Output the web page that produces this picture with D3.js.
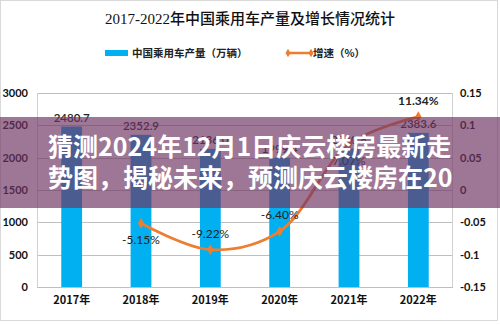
<!DOCTYPE html>
<html>
<head>
<meta charset="utf-8">
<script src="https://cdn.jsdelivr.net/npm/d3@7/dist/d3.min.js"></script>
<style>
  html, body { margin: 0; padding: 0; background: #fff; }
  svg { display: block; }
</style>
</head>
<body>
<script>
// ---- data ----
const years = ["2017年", "2018年", "2019年", "2020年", "2021年", "2022年"];
const production = [2480.7, 2352.9, 2136.0, 1999.4, 2140.8, 2383.6];
const growth = [null, -0.0515, -0.0922, -0.0640, 0.0707, 0.1134];
const growthLabels = ["", "-5.15%", "-9.22%", "-6.40%", "7.07%", "11.34%"];
const leftTicks = [0, 500, 1000, 1500, 2000, 2500, 3000];
const rightTicks = [-0.15, -0.1, -0.05, 0, 0.05, 0.1, 0.15];
const titleText = "2017-2022年中国乘用车产量及增长情况统计";
const legendLabels = ["中国乘用车产量（万辆）", "增速（%）"];
const overlayLines = ["猜测2024年12月1日庆云楼房最新走", "势图，揭秘未来，预测庆云楼房在20"];

// ---- layout (not data) ----
const W = 500, H = 325;
const plot = { left: 37, right: 453, top: 93, bottom: 287 };
const growthLabelSide = [null, "below", "above", "above", "below", "above"];
const barColor = "#00B0F0";
const lineColor = "#ED7D31";

const svg = d3.select("body").append("svg").attr("width", W).attr("height", H);
svg.append("rect").attr("width", W).attr("height", H).attr("fill", "#fff");
// outer frame
svg.append("rect").attr("x", 0.5).attr("y", 0.5).attr("width", W - 3).attr("height", H - 5)
  .attr("fill", "none").attr("stroke", "#d9d9d9");

const x = d3.scaleBand().domain(years).range([plot.left, plot.right]).padding(0);
const yL = d3.scaleLinear().domain([0, 3000]).range([plot.bottom, plot.top]);
const yR = d3.scaleLinear().domain([-0.15, 0.15]).range([plot.bottom, plot.top]);
const cx = i => x(years[i]) + x.bandwidth() / 2;

// title
svg.append("text").attr("x", 250).attr("y", 24).attr("text-anchor", "middle")
  .attr("font-family", "'Liberation Serif', 'Noto Sans CJK SC', serif")
  .attr("font-size", 15).attr("font-weight", 500).attr("fill", "#111").text(titleText);

// legend
const lg = svg.append("g").attr("font-family", "'Noto Sans CJK SC', sans-serif")
  .attr("font-size", 10.5).attr("font-weight", 700).attr("fill", "#222");
lg.append("rect").attr("x", 105).attr("y", 50).attr("width", 23).attr("height", 6).attr("fill", barColor);
lg.append("text").attr("x", 132).attr("y", 57).text(legendLabels[0]);
lg.append("line").attr("x1", 288).attr("x2", 311).attr("y1", 53).attr("y2", 53)
  .attr("stroke", lineColor).attr("stroke-width", 2.5);
[288, 311].forEach(px => lg.append("path").attr("d", d3.symbol(d3.symbolDiamond, 22)())
  .attr("transform", `translate(${px},53)`).attr("fill", lineColor));
lg.append("text").attr("x", 313).attr("y", 57).text(legendLabels[1]);

// gridlines
svg.append("g").selectAll("line").data(leftTicks).join("line")
  .attr("x1", plot.left).attr("x2", plot.right)
  .attr("y1", d => Math.round(yL(d)) + 0.5).attr("y2", d => Math.round(yL(d)) + 0.5)
  .attr("stroke", "#bfbfbf");
// plot border sides
svg.append("line").attr("x1", plot.left + 0.5).attr("x2", plot.left + 0.5)
  .attr("y1", plot.top).attr("y2", plot.bottom).attr("stroke", "#d0d0d0");
svg.append("line").attr("x1", plot.right - 0.5).attr("x2", plot.right - 0.5)
  .attr("y1", plot.top).attr("y2", plot.bottom).attr("stroke", "#d0d0d0");

// axes
const axisFont = "Lato, 'Noto Sans', sans-serif";
const gL = svg.append("g").attr("transform", `translate(${plot.left},0)`)
  .call(d3.axisLeft(yL).tickValues(leftTicks).tickSize(0).tickPadding(9).tickFormat(d => String(d)));
const gR = svg.append("g").attr("transform", `translate(${plot.right},0)`)
  .call(d3.axisRight(yR).tickValues(rightTicks).tickSize(0).tickPadding(7).tickFormat(d => String(+d.toFixed(2))));
const gX = svg.append("g").attr("transform", `translate(0,${plot.bottom})`)
  .call(d3.axisBottom(x).tickSize(0).tickPadding(9));
[gL, gR, gX].forEach(g => {
  g.select(".domain").remove();
  g.selectAll("text").attr("font-family", axisFont).attr("font-size", 11)
    .attr("font-weight", 700).attr("fill", "#111");
});
gX.selectAll("text").attr("font-family", "'Noto Sans CJK SC', sans-serif").attr("font-size", 11);
// bottom axis line
svg.append("line").attr("x1", plot.left).attr("x2", plot.right)
  .attr("y1", plot.bottom + 0.5).attr("y2", plot.bottom + 0.5).attr("stroke", "#bfbfbf");

// bars
const bw = x.bandwidth() * 0.3;
svg.append("g").selectAll("rect").data(production).join("rect")
  .attr("x", (d, i) => cx(i) - bw / 2)
  .attr("y", d => yL(d)).attr("width", bw).attr("height", d => yL(0) - yL(d))
  .attr("fill", barColor);
svg.append("g").selectAll("text").data(production).join("text")
  .attr("x", (d, i) => cx(i))
  .attr("y", d => yL(d) - 5).attr("text-anchor", "middle")
  .attr("font-family", axisFont).attr("font-size", 11.5).attr("font-weight", 600)
  .attr("fill", "#222").text(d => d.toFixed(1));

// line
const idx = growth.map((g, i) => i).filter(i => growth[i] != null);
const pts = idx.map(i => [cx(i), yR(growth[i])]);
svg.append("path").attr("d", d3.line().curve(d3.curveCatmullRom)(pts))
  .attr("fill", "none").attr("stroke", lineColor).attr("stroke-width", 2.75);
svg.append("g").selectAll("path").data(pts).join("path")
  .attr("d", d3.symbol(d3.symbolDiamond, 34)())
  .attr("transform", d => `translate(${d[0]},${d[1]})`).attr("fill", lineColor);
svg.append("g").selectAll("text").data(idx).join("text")
  .attr("x", i => cx(i))
  .attr("y", i => growthLabelSide[i] === "above" ? yR(growth[i]) - 12 : yR(growth[i]) + 21)
  .attr("text-anchor", "middle")
  .attr("font-family", axisFont).attr("font-size", 12)
  .attr("font-weight", i => i === 5 ? 700 : 400)
  .attr("fill", "#222").text(i => growthLabels[i]);

// overlay banner
svg.append("rect").attr("x", 0).attr("y", 117).attr("width", W).attr("height", 91)
  .attr("fill", "rgb(111,52,99)").attr("fill-opacity", 0.675);
svg.append("g").selectAll("text").data(overlayLines).join("text")
  .attr("x", 48).attr("y", (d, i) => 156 + i * 31)
  .attr("font-family", "'Noto Sans CJK SC', sans-serif").attr("font-size", 25)
  .attr("font-weight", 700).attr("fill", "#fff").text(d => d);
</script>
</body>
</html>
